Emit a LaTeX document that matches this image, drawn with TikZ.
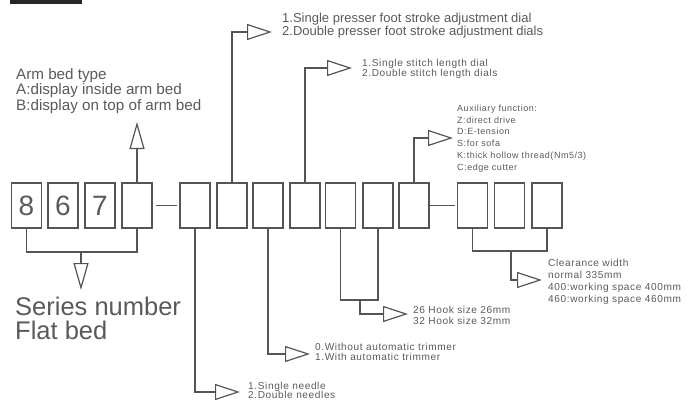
\documentclass[tikz,border=0pt]{standalone}
\usepackage{fontspec}
\setmainfont{Liberation Sans}
\newfontfamily\spacedfont[LetterSpace=6]{Liberation Sans}
\usetikzlibrary{arrows.meta}
\definecolor{ln}{HTML}{555555}
\definecolor{tx}{HTML}{5A5A5A}
\begin{document}
\begin{tikzpicture}[x=1pt,y=-1pt,
  digbox/.style={draw=ln,line width=1.3pt,minimum width=30pt,minimum height=45pt,inner sep=0pt,font=\fontsize{28}{28}\selectfont,text=tx},
  conn/.style={draw=ln,line width=1.2pt},
  triv/.style={conn,-{Triangle[open,length=27pt,width=15pt]}},
  trih/.style={conn,-{Triangle[open,length=25pt,width=16pt]}},
  lbl/.style={anchor=west,align=left,inner sep=0pt,text=tx},
  small/.style={lbl,font=\spacedfont\fontsize{10.1}{#1}\selectfont},
]
\useasboundingbox (0,0) rectangle (691,404);
\fill[black!85] (10,0) rectangle (82,4);
% boxes
\node[digbox] (b1) at (26.5,205.5) {8};
\node[digbox] (b2) at (63,205.5) {6};
\node[digbox] (b3) at (100,205.5) {7};
\node[digbox] (b4) at (137,205.5) {};
\node[digbox] (b5) at (195,205.5) {};
\node[digbox] (b6) at (232,205.5) {};
\node[digbox] (b7) at (268,205.5) {};
\node[digbox] (b8) at (305,205.5) {};
\node[digbox] (b9) at (340.5,205.5) {};
\node[digbox] (b10) at (378,205.5) {};
\node[digbox] (b11) at (414,205.5) {};
\node[digbox] (b12) at (472.5,205.5) {};
\node[digbox] (b13) at (509.5,205.5) {};
\node[digbox] (b14) at (547,205.5) {};
% dashes
\draw[conn] (b4.east) ++(3,0) coordinate (d1a) -- (177,205.5) coordinate (d1b);
\draw[conn] (b11.east) ++(0,0) coordinate (d2a) -- (455,205.5) coordinate (d2b);
% coordinates
\coordinate (armtip) at (137,122);
\coordinate (t6) at (272,32);
\coordinate (t8) at (352,68);
\coordinate (t11) at (453,138);
\coordinate (j1) at (81,252);
\coordinate (sertip) at (81,290);
\coordinate (t5) at (240,392);
\coordinate (t7) at (310,354);
\coordinate (j9) at (360,300);
\coordinate (t9) at (408,314);
\coordinate (j12) at (511,251);
\coordinate (t12) at (542,280);
% top connectors
\draw[triv] (b4.north) -- (armtip);
\draw[trih] (b6.north) |- (t6);
\draw[trih] (b8.north) |- (t8);
\draw[trih] (b11.north) |- (t11);
% bottom connectors
\draw[conn] (b1.south) |- (j1) -| (b4.south);
\draw[triv] (j1) -- (sertip);
\draw[trih] (b5.south) |- (t5);
\draw[trih] (b7.south) |- (t7);
\draw[conn] (b9.south) |- (j9) -| (b10.south);
\draw[trih] (j9) |- (t9);
\draw[conn] (b12.south) |- (j12) -| (b14.south);
\draw[trih] (j12) |- (t12);
% labels
\node[lbl,font=\fontsize{15.2}{15.5}\selectfont] (arm) at (16,91) {Arm bed type\\A:display inside arm bed\\B:display on top of arm bed};
\node[lbl,font=\fontsize{13}{13}\selectfont] (presser) at (282,25.5) {1.Single presser foot stroke adjustment dial\\2.Double presser foot stroke adjustment dials};
\node[small=10] (stitch) at (362,69) {1.Single stitch length dial\\2.Double stitch length dials};
\node[lbl,font=\spacedfont\fontsize{9}{11.8}\selectfont] (aux) at (457,138.5) {Auxiliary function:\\Z:direct drive\\D:E-tension\\S:for sofa\\K:thick hollow thread(Nm5/3)\\C:edge cutter};
\node[small=12] (clear) at (548,282) {Clearance width\\normal 335mm\\400:working space 400mm\\460:working space 460mm};
\node[small=11] (hook) at (413,315.5) {26 Hook size 26mm\\32 Hook size 32mm};
\node[small=10] (trim) at (315,352) {0.Without automatic trimmer\\1.With automatic trimmer};
\node[small=9.5] (needle) at (248,390.5) {1.Single needle\\2.Double needles};
\node[lbl,font=\fontsize{25.5}{23.5}\selectfont] (series) at (15,318.5) {Series number\\Flat bed};
\end{tikzpicture}
\end{document}
